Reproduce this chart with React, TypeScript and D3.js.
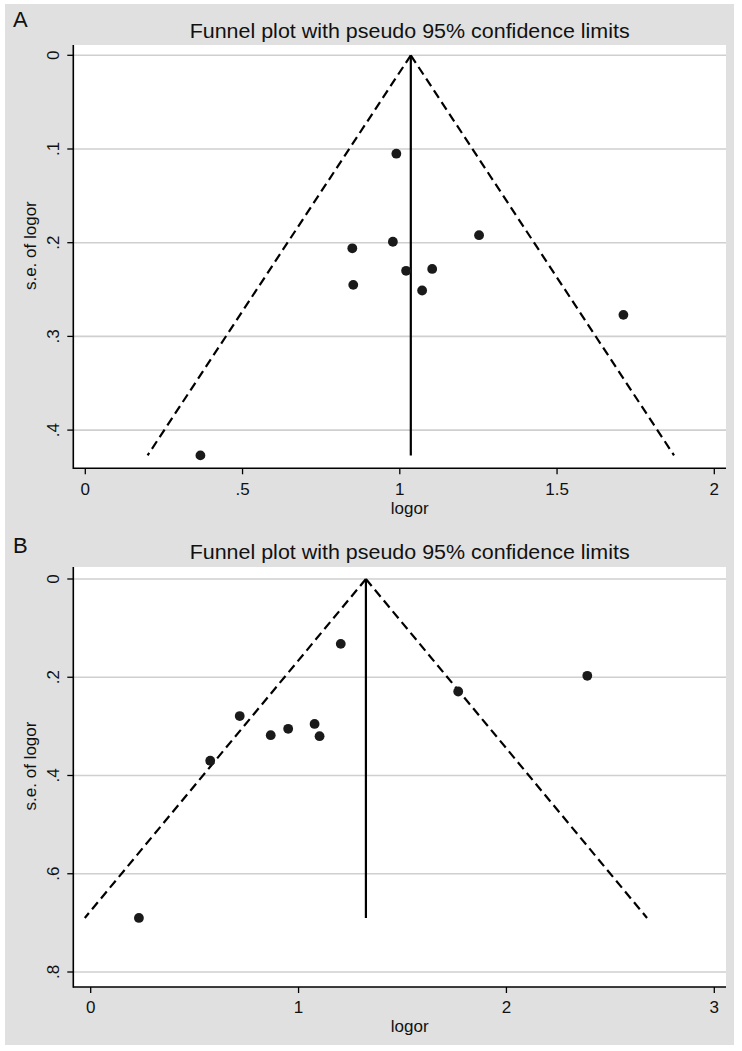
import React, { useEffect } from "react";
import * as d3 from "d3";

// ---- Data ----
const logorA = [0.989, 0.849, 0.978, 0.852, 1.02, 1.103, 1.071, 1.252, 1.711, 0.366];
const seA = [0.105, 0.206, 0.199, 0.245, 0.23, 0.228, 0.251, 0.192, 0.277, 0.427];
const pooledA = 1.035;
const xTicksA = [0, 0.5, 1, 1.5, 2];
const yTicksA = [0, 0.1, 0.2, 0.3, 0.4];

const logorB = [1.203, 2.389, 1.768, 0.717, 1.077, 0.95, 0.866, 1.101, 0.575, 0.232];
const seB = [0.132, 0.197, 0.229, 0.279, 0.295, 0.305, 0.318, 0.32, 0.37, 0.69];
const pooledB = 1.324;
const xTicksB = [0, 1, 2, 3];
const yTicksB = [0, 0.2, 0.4, 0.6, 0.8];

const TITLE = "Funnel plot with pseudo 95% confidence limits";
const XLABEL = "logor";
const YLABEL = "s.e. of logor";

const fmt = (v: number) => {
  if (v === 0) return "0";
  const s = String(v);
  return s.startsWith("0.") ? s.slice(1) : s;
};

const FONT = "'Liberation Sans', Arial, Helvetica, sans-serif";

type PanelProps = {
  letter: string;
  letterY: number;
  titleY: number;
  plotTop: number;
  plotBottom: number;
  plotLeft: number;
  plotRight: number;
  xDomain: [number, number];
  xRange: [number, number];
  yDomain: [number, number];
  yRange: [number, number];
  xTicks: number[];
  yTicks: number[];
  logor: number[];
  se: number[];
  pooled: number;
  tickLabelY: number;
  xLabelY: number;
};

function Panel(p: PanelProps) {
  const x = d3.scaleLinear().domain(p.xDomain).range(p.xRange);
  const y = d3.scaleLinear().domain(p.yDomain).range(p.yRange);
  const maxSe = d3.max(p.se) as number;
  const funnelLine = d3
    .line<[number, number]>()
    .x((d) => x(d[0]))
    .y((d) => y(d[1]));
  const left: [number, number][] = [
    [p.pooled, 0],
    [p.pooled - 1.96 * maxSe, maxSe],
  ];
  const right: [number, number][] = [
    [p.pooled, 0],
    [p.pooled + 1.96 * maxSe, maxSe],
  ];
  const midY = (p.plotTop + p.plotBottom) / 2;
  return (
    <g>
      <text x={13} y={p.letterY} fontFamily={FONT} fontSize={22} fill="#111">
        {p.letter}
      </text>
      <text
        x={(p.plotLeft + p.plotRight) / 2 + 10}
        y={p.titleY}
        textAnchor="middle"
        fontFamily={FONT}
        fontSize={20}
        fill="#111"
        textLength={440}
        lengthAdjust="spacingAndGlyphs"
      >
        {TITLE}
      </text>
      <rect
        x={p.plotLeft}
        y={p.plotTop}
        width={p.plotRight - p.plotLeft}
        height={p.plotBottom - p.plotTop}
        fill="#ffffff"
      />
      {p.yTicks.map((t) => (
        <line
          key={"g" + t}
          x1={p.plotLeft}
          x2={p.plotRight}
          y1={y(t)}
          y2={y(t)}
          stroke="#cfcfcf"
          strokeWidth={1.6}
        />
      ))}
      {/* funnel */}
      <path d={funnelLine(left) || ""} fill="none" stroke="#000" strokeWidth={2.2} strokeDasharray="9,5" />
      <path d={funnelLine(right) || ""} fill="none" stroke="#000" strokeWidth={2.2} strokeDasharray="9,5" />
      <line x1={x(p.pooled)} x2={x(p.pooled)} y1={y(0)} y2={y(maxSe)} stroke="#000" strokeWidth={2.2} />
      {p.logor.map((v, i) => (
        <circle key={i} cx={x(v)} cy={y(p.se[i])} r={4.9} fill="#1a1a1a" />
      ))}
      {/* axes */}
      <line x1={p.plotLeft} x2={p.plotLeft} y1={p.plotTop} y2={p.plotBottom + 0.75} stroke="#000" strokeWidth={1.6} />
      <line x1={p.plotLeft} x2={p.plotRight} y1={p.plotBottom} y2={p.plotBottom} stroke="#000" strokeWidth={1.6} />
      {p.yTicks.map((t) => (
        <g key={"yt" + t}>
          <line x1={p.plotLeft - 6} x2={p.plotLeft} y1={y(t)} y2={y(t)} stroke="#000" strokeWidth={1.3} />
          <text
            transform={`translate(${p.plotLeft - 14},${y(t)}) rotate(-90)`}
            textAnchor="middle"
            fontFamily={FONT}
            fontSize={17}
            fill="#111"
          >
            {fmt(t)}
          </text>
        </g>
      ))}
      {p.xTicks.map((t) => (
        <g key={"xt" + t}>
          <line x1={x(t)} x2={x(t)} y1={p.plotBottom} y2={p.plotBottom + 6} stroke="#000" strokeWidth={1.3} />
          <text x={x(t)} y={p.tickLabelY} textAnchor="middle" fontFamily={FONT} fontSize={17} fill="#111">
            {fmt(t)}
          </text>
        </g>
      ))}
      <text
        x={(p.plotLeft + p.plotRight) / 2 + 10}
        y={p.xLabelY}
        textAnchor="middle"
        fontFamily={FONT}
        fontSize={17}
        fill="#111"
      >
        {XLABEL}
      </text>
      <text
        transform={`translate(${p.plotLeft - 37},${midY - 11}) rotate(-90)`}
        textAnchor="middle"
        fontFamily={FONT}
        fontSize={17}
        fill="#111"
      >
        {YLABEL}
      </text>
    </g>
  );
}

export default function App() {
  useEffect(() => {
    document.body.style.margin = "0";
  }, []);
  return (
    <svg width={742} height={1051} style={{ display: "block" }}>
      <rect x={0} y={0} width={742} height={1051} fill="#ffffff" />
      <rect x={5} y={4} width={729} height={1041} fill="#e0e0e0" />
      <Panel
        letter="A"
        letterY={27}
        titleY={38}
        plotTop={45}
        plotBottom={468.3}
        plotLeft={73.3}
        plotRight={726}
        xDomain={[0, 2]}
        xRange={[85.3, 714.3]}
        yDomain={[0, 0.4]}
        yRange={[55.3, 430.1]}
        xTicks={xTicksA}
        yTicks={yTicksA}
        logor={logorA}
        se={seA}
        pooled={pooledA}
        tickLabelY={495}
        xLabelY={514}
      />
      <Panel
        letter="B"
        letterY={553}
        titleY={559}
        plotTop={567}
        plotBottom={987}
        plotLeft={73.3}
        plotRight={726}
        xDomain={[0, 3]}
        xRange={[90.7, 714.3]}
        yDomain={[0, 0.8]}
        yRange={[579, 972]}
        xTicks={xTicksB}
        yTicks={yTicksB}
        logor={logorB}
        se={seB}
        pooled={pooledB}
        tickLabelY={1013}
        xLabelY={1032}
      />
    </svg>
  );
}
